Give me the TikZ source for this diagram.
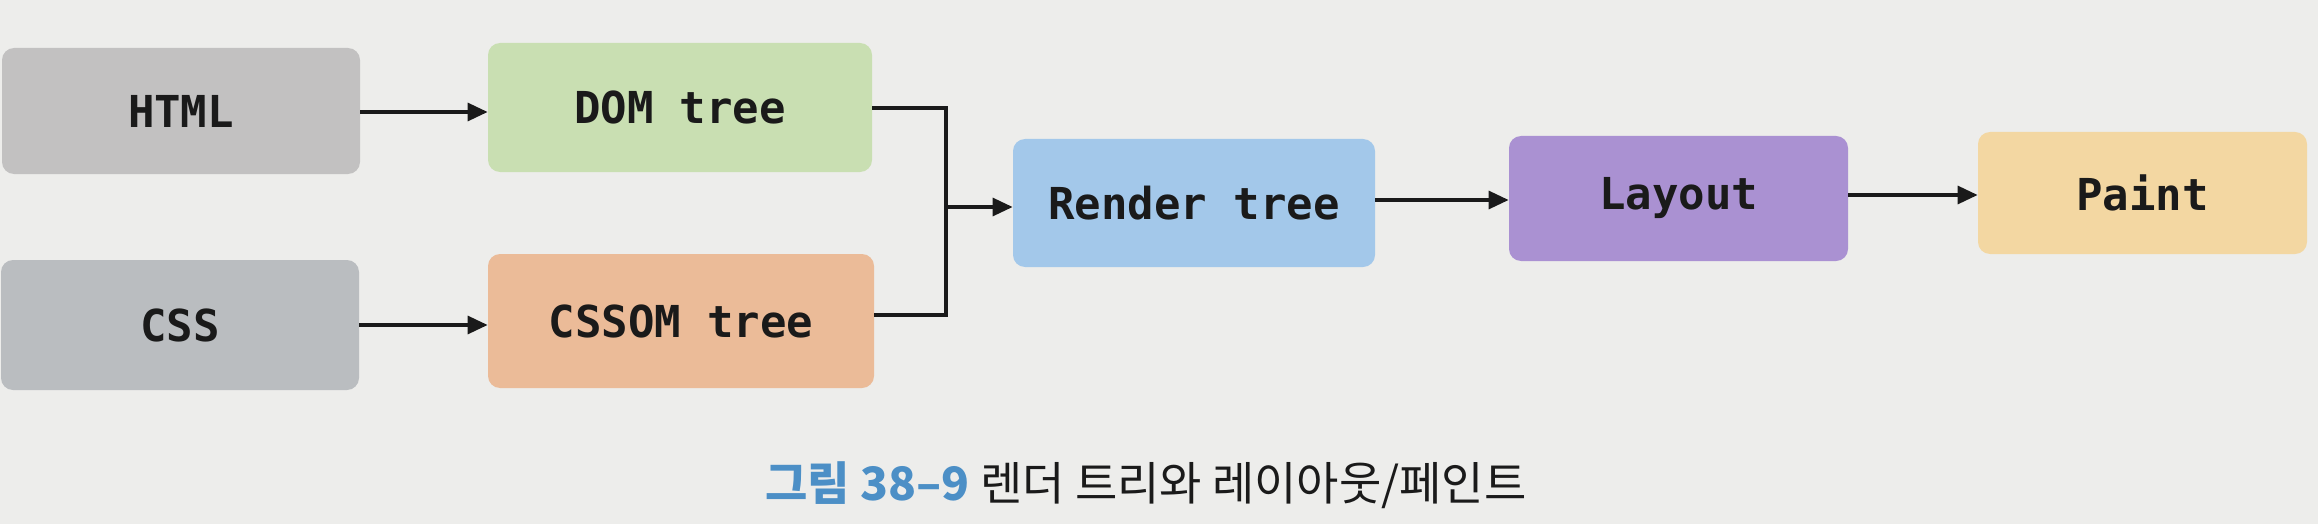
\documentclass[tikz,border=0pt]{standalone}
\usepackage{fontspec}
\newfontfamily\monob{DejaVu Sans Mono}
\newfontfamily\cjk{Noto Sans CJK KR}
\usetikzlibrary{arrows.meta}
\definecolor{paper}{HTML}{EDEDEB}
\definecolor{cgrayA}{HTML}{C2C1C1}
\definecolor{cgrayB}{HTML}{BABDC0}
\definecolor{cgreen}{HTML}{C9DFB2}
\definecolor{corange}{HTML}{EBBB98}
\definecolor{cblue}{HTML}{A3C8EA}
\definecolor{cpurple}{HTML}{AA91D2}
\definecolor{cyellow}{HTML}{F3D7A2}
\definecolor{ink}{HTML}{1A1A1A}
\definecolor{capblue}{HTML}{4C8FC6}
\tikzset{
  box/.style={rounded corners=6pt, inner sep=0pt, text=ink,
    font=\monob\bfseries\fontsize{22}{26}\selectfont},
  conn/.style={line width=1.6pt, draw=ink},
  arr/.style={conn, -{Triangle[length=10pt,width=9pt]}}
}
\begin{document}
\begin{tikzpicture}[x=0.5pt,y=-0.5pt]
\fill[paper] (0,0) rectangle (2318,524);
\useasboundingbox (0,0) rectangle (2318,524);
\node[box, fill=cgrayA, minimum width=179pt, minimum height=63pt] (html) at (181,111) {HTML};
\node[box, fill=cgreen, minimum width=192pt, minimum height=64.5pt] (dom) at (680,107.5) {DOM tree};
\node[box, fill=cgrayB, minimum width=179pt, minimum height=65pt] (css) at (180,325) {CSS};
\node[box, fill=corange, minimum width=193pt, minimum height=67pt] (cssom) at (681,321) {CSSOM tree};
\node[box, fill=cblue, minimum width=181pt, minimum height=64pt] (render) at (1194,203) {Render tree};
\node[box, fill=cpurple, minimum width=169.5pt, minimum height=62.5pt] (layout) at (1678.5,198.5) {Layout};
\node[box, fill=cyellow, minimum width=164.5pt, minimum height=61pt] (paint) at (2142.5,193) {Paint};
\coordinate (join) at (946,207);
\draw[arr] (html.east |- 0,112) -- (dom.west |- 0,112);
\draw[arr] (css.east |- 0,325) -- (cssom.west |- 0,325);
\draw[conn] (dom.east |- 0,108) -| (join) |- (cssom.east |- 0,315);
\draw[arr] (join) -- (render.west |- join);
\draw[arr] (render.east |- 0,200) -- (layout.west |- 0,200);
\draw[arr] (layout.east |- 0,195) -- (paint.west |- 0,195);
\node[inner sep=0pt, font=\cjk\fontsize{23}{27}\selectfont, text=ink] (cap) at (1146,485)
  {\textcolor{capblue}{\bfseries 그림 38–9}\ 렌더 트리와 레이아웃/페인트};
\end{tikzpicture}
\end{document}
